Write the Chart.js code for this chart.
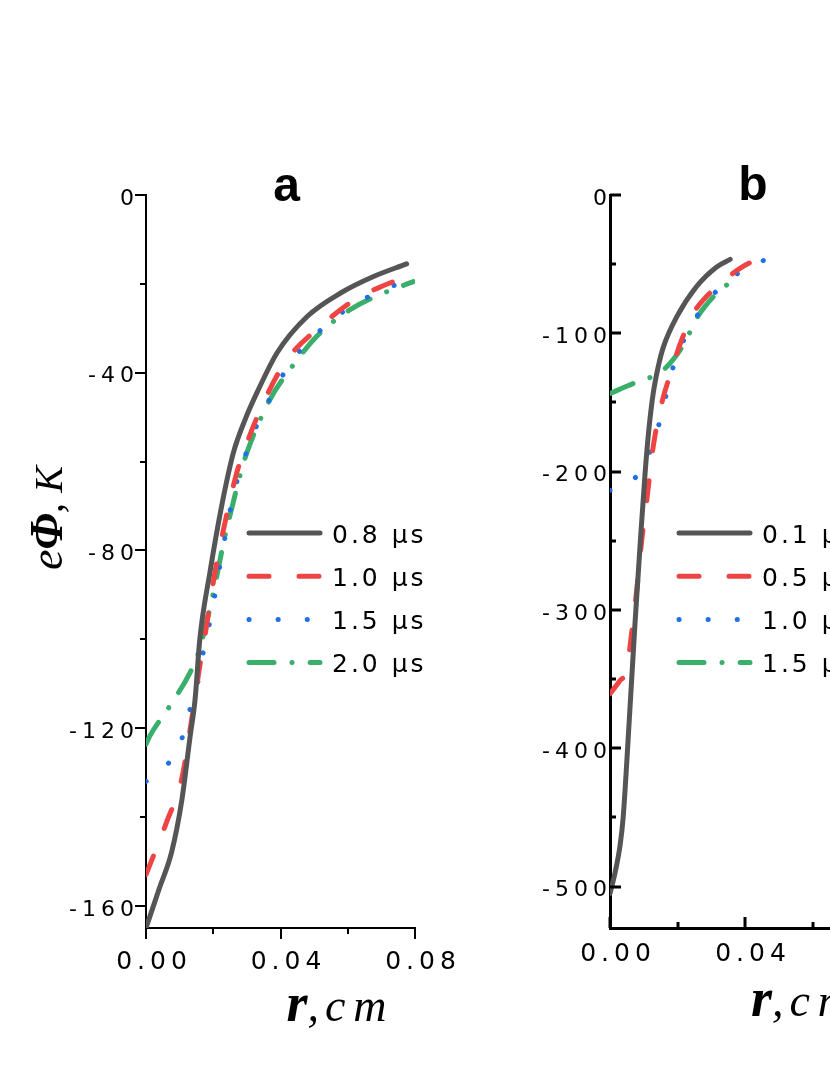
<!DOCTYPE html>
<html>
<head>
<meta charset="utf-8">
<script src="https://cdn.jsdelivr.net/npm/chart.js@4.4.1/dist/chart.umd.min.js"></script>
<style>
  html, body { margin: 0; padding: 0; background: #fff; }
  body { width: 830px; height: 1075px; overflow: hidden; position: relative; }
  .panel { position: absolute; top: 0; width: 460px; height: 1075px; }
  #panelA { left: 0; }
  #panelB { left: 460px; }
</style>
</head>
<body>
<div class="panel" id="panelA"><canvas id="chartA" width="460" height="1075"></canvas></div>
<div class="panel" id="panelB"><canvas id="chartB" width="460" height="1075"></canvas></div>
<script>
// ---- panel a : r (cm) vs e*Phi (K) ----
const labelsA = ['0.8 μs', '1.0 μs', '1.5 μs', '2.0 μs'];
const rA08 = [0, 0.004, 0.0076, 0.0106, 0.0131, 0.0146, 0.016, 0.019, 0.0225, 0.026, 0.0295, 0.033, 0.039, 0.048, 0.058, 0.0675, 0.0775];
const phiA08 = [-165, -156, -148, -136.5, -122, -113.5, -100, -85, -70, -58, -50.5, -44.5, -35.5, -27.3, -22, -18.4, -15.5];
const rA10 = [0, 0.0062, 0.0106, 0.0136, 0.016, 0.018, 0.0205, 0.0235, 0.027, 0.030, 0.036, 0.042, 0.052, 0.062, 0.070, 0.0795];
const phiA10 = [-153, -141, -131.5, -118, -106, -97, -85, -73.7, -62.5, -55.8, -45, -37, -29.5, -23.6, -20.6, -17.8];
const rA15 = [0, 0.0066, 0.0106, 0.0131, 0.0156, 0.017, 0.019, 0.0205, 0.023, 0.0265, 0.0294, 0.0319, 0.0396, 0.0438, 0.0495, 0.0557, 0.0627, 0.0711, 0.0795];
const phiA15 = [-132, -128, -122.5, -115.7, -109, -103, -96, -90, -79, -66, -59, -53.7, -42, -36.9, -32.2, -27.9, -24.3, -21.2, -18.7];
const rA20 = [0, 0.0012, 0.0071, 0.0131, 0.0156, 0.019, 0.021, 0.023, 0.026, 0.028, 0.030, 0.0369, 0.0428, 0.0508, 0.0607, 0.0706, 0.0795];
const phiA20 = [-123.6, -121.7, -115, -107.5, -103, -93, -86, -78.5, -69, -63, -58, -46, -39.3, -31.8, -25.8, -22.1, -19.5];

// ---- panel b ----
const labelsB = ['0.1 μs', '0.5 μs', '1.0 μs', '1.5 μs'];
const rB01 = [0, 0.0015, 0.003, 0.0039, 0.0057, 0.0074, 0.009, 0.0104, 0.0115, 0.0128, 0.0143, 0.0158, 0.0198, 0.0257, 0.0316, 0.0356];
const phiB01 = [-505, -490, -470, -450, -380, -310, -250, -201, -170, -143.5, -124, -110, -88, -66, -52, -46.5];
const rB05 = [0, 0.003, 0.0049, 0.0064, 0.0079, 0.0094, 0.0109, 0.0128, 0.0153, 0.0178, 0.0212, 0.0247, 0.0276, 0.0346, 0.0385, 0.0474];
const phiB05 = [-360.6, -351, -343.7, -317, -286, -249.6, -220.7, -182, -150.7, -130, -105, -85.6, -76, -60.3, -53, -42.2];
const rB10 = [0, 0.0069, 0.0114, 0.0143, 0.0163, 0.0183, 0.0212, 0.0247, 0.0296, 0.0356, 0.0435, 0.0468];
const phiB10 = [-213.5, -206, -188, -167.6, -148, -127.8, -108.5, -91.7, -74.8, -60.3, -50, -45.5];
const rB15 = [0, 0.0069, 0.0123, 0.0163, 0.0217, 0.0237, 0.0257, 0.0285, 0.0311, 0.0346, 0.0356];
const phiB15 = [-143.5, -136.3, -131.5, -125.4, -108.5, -99, -89, -79.5, -72.4, -65, -62.7];

// labelled ticks
const xMajor = [0, 0.04, 0.08];
const yMajorA = [0, -40, -80, -120, -160];
const yMajorB = [0, -100, -200, -300, -400, -500];

const SANS = 'DejaVu Sans';
const SERIF = 'Liberation Serif';
const seriesColors = ['#555555', '#ef4444', '#1f6fe5', '#3aae6b'];
const seriesDash = [[], [20, 30], [0.1, 29], [25, 18, 0.1, 18]];

function isMajor(v, list) {
  return list.some(m => Math.abs(m - v) < 1e-9);
}

function series(r, phi, i, label) {
  return {
    label: label,
    data: r.map((x, k) => ({ x: x, y: phi[k] })),
    borderColor: seriesColors[i],
    borderDash: seriesDash[i],
    borderWidth: 5,
    borderCapStyle: 'round',
    pointRadius: 0,
    cubicInterpolationMode: 'monotone',
    fill: false
  };
}

// tick marks, inset legend, panel letter and axis titles
const panelDecor = {
  id: 'panelDecor',
  beforeUpdate(chart, args, opts) { chart.ctx.letterSpacing = opts.tickSpacing + 'px'; },
  beforeDraw(chart, args, opts) { chart.ctx.letterSpacing = opts.tickSpacing + 'px'; },
  afterDraw(chart, args, opts) {
    const ctx = chart.ctx;
    const area = chart.chartArea;
    const xs = chart.scales.x;
    const ys = chart.scales.y;
    const dir = opts.inward ? -1 : 1;
    ctx.save();
    ctx.strokeStyle = '#000';
    ctx.lineWidth = opts.tickWidth;
    ctx.lineCap = 'butt';
    xs.ticks.forEach(t => {
      const len = t.label ? opts.majorLen : opts.minorLen;
      const px = Math.round(xs.getPixelForValue(t.value));
      ctx.beginPath();
      ctx.moveTo(px, area.bottom);
      ctx.lineTo(px, area.bottom + dir * len);
      ctx.stroke();
    });
    ys.ticks.forEach(t => {
      const len = t.label ? opts.majorLen : opts.minorLen;
      const py = Math.round(ys.getPixelForValue(t.value));
      ctx.beginPath();
      ctx.moveTo(area.left, py);
      ctx.lineTo(area.left - dir * len, py);
      ctx.stroke();
    });

    // legend
    const lg = opts.legend;
    chart.data.datasets.forEach((ds, i) => {
      const y = lg.y + i * lg.dy;
      ctx.beginPath();
      ctx.setLineDash(ds.borderDash);
      ctx.lineCap = 'round';
      ctx.lineWidth = ds.borderWidth;
      ctx.strokeStyle = ds.borderColor;
      ctx.moveTo(lg.x, y);
      ctx.lineTo(lg.x + lg.len, y);
      ctx.stroke();
      ctx.setLineDash([]);
      ctx.fillStyle = '#000';
      ctx.font = lg.size + 'px "' + SANS + '"';
      ctx.letterSpacing = lg.spacing + 'px';
      ctx.textAlign = 'left';
      ctx.textBaseline = 'middle';
      ctx.fillText(ds.label, lg.x + lg.len + lg.gap, y + lg.textDy);
    });

    // panel letter
    const cx = (area.left + area.right) / 2;
    ctx.letterSpacing = '0px';
    ctx.fillStyle = '#000';
    ctx.font = 'bold 48px "Liberation Sans"';
    ctx.textAlign = 'center';
    ctx.textBaseline = 'alphabetic';
    ctx.fillText(opts.letter, cx + opts.letterDx, opts.letterY);

    // x title:  r, cm
    const xParts = [
      ['r', 'italic bold 54px "' + SERIF + '"', 0],
      [',', 'italic 46px "' + SERIF + '"', 6],
      ['cm', 'italic 46px "' + SERIF + '"', 8]
    ];
    drawParts(ctx, xParts, cx + opts.xTitleDx, opts.xTitleY, 0);

    // y title: e Phi, K
    if (opts.yTitle) {
      const yParts = [
        ['e', 'italic 46px "' + SERIF + '"', 0],
        ['Φ', 'italic bold 46px "' + SERIF + '"', 0],
        [',', 'italic 42px "' + SERIF + '"', 0],
        [' K', 'italic 40px "' + SERIF + '"', 0]
      ];
      drawParts(ctx, yParts, opts.yTitle.x, opts.yTitle.y, -Math.PI / 2);
    }
    ctx.restore();
  }
};

function drawParts(ctx, parts, x, y, rot) {
  ctx.save();
  ctx.translate(x, y);
  ctx.rotate(rot);
  ctx.textAlign = 'left';
  ctx.textBaseline = 'alphabetic';
  let total = 0;
  const widths = parts.map(p => {
    ctx.font = p[1];
    ctx.letterSpacing = p[2] + 'px';
    const w = ctx.measureText(p[0]).width;
    total += w;
    return w;
  });
  let pos = -total / 2;
  parts.forEach((p, i) => {
    ctx.font = p[1];
    ctx.letterSpacing = p[2] + 'px';
    ctx.fillText(p[0], pos, 0);
    pos += widths[i];
  });
  ctx.restore();
}

function makeChart(id, datasets, cfg) {
  return new Chart(document.getElementById(id), {
    type: 'line',
    data: { datasets: datasets },
    plugins: [panelDecor],
    options: {
      responsive: false,
      animation: false,
      events: [],
      layout: { padding: { left: 0, right: cfg.padRight, top: 195, bottom: 0 } },
      plugins: {
        legend: { display: false },
        title: { display: false },
        tooltip: { enabled: false },
        panelDecor: cfg.decor
      },
      scales: {
        x: {
          type: 'linear',
          min: 0,
          max: 0.08,
          grid: { display: false, drawTicks: false },
          border: { display: true, color: '#000', width: cfg.axisWidth },
          ticks: {
            stepSize: 0.02,
            includeBounds: false,
            autoSkip: false,
            maxRotation: 0,
            labelOffset: 8,
            padding: cfg.xPad,
            color: '#000',
            font: { family: SANS, size: 25 },
            callback: v => isMajor(v, xMajor) ? v.toFixed(2) : ''
          },
          afterFit: s => {
            s.height = 1075 - 928;
            s.paddingLeft = 0;
            s.paddingRight = 0;
          }
        },
        y: {
          type: 'linear',
          min: cfg.yMin,
          max: 0,
          grid: { display: false, drawTicks: false },
          border: { display: true, color: '#000', width: cfg.axisWidth },
          ticks: {
            stepSize: cfg.yStep,
            includeBounds: false,
            autoSkip: false,
            labelOffset: 4,
            padding: cfg.yPad,
            color: '#000',
            font: { family: SANS, size: 22 },
            callback: v => isMajor(v, cfg.yMajor) ? String(v) : ''
          },
          afterFit: s => {
            s.width = cfg.yWidth;
            s.paddingTop = 0;
            s.paddingBottom = 0;
          }
        }
      }
    }
  });
}

makeChart('chartA', [
  series(rA08, phiA08, 0, labelsA[0]),
  series(rA10, phiA10, 1, labelsA[1]),
  series(rA15, phiA15, 2, labelsA[2]),
  series(rA20, phiA20, 3, labelsA[3])
], {
  padRight: 45, yWidth: 146, yMin: -165, yStep: 20, yMajor: yMajorA,
  axisWidth: 2, xPad: 19, yPad: 7,
  decor: {
    tickSpacing: 5, inward: false, majorLen: 11, minorLen: 6, tickWidth: 2,
    legend: { x: 249, y: 533, dy: 43.2, len: 71, gap: 12, size: 25, spacing: 3, textDy: 3 },
    letter: 'a', letterDx: 6, letterY: 201,
    xTitleDx: 60, xTitleY: 1021,
    yTitle: { x: 62, y: 518 }
  }
});

makeChart('chartB', [
  series(rB01, phiB01, 0, labelsB[0]),
  series(rB05, phiB05, 1, labelsB[1]),
  series(rB10, phiB10, 2, labelsB[2]),
  series(rB15, phiB15, 3, labelsB[3])
], {
  padRight: 40, yWidth: 150, yMin: -530, yStep: 50, yMajor: yMajorB,
  axisWidth: 3, xPad: 11, yPad: -2,
  decor: {
    tickSpacing: 5, inward: true, majorLen: 11, minorLen: 6, tickWidth: 3,
    legend: { x: 219, y: 533, dy: 43.2, len: 71, gap: 12, size: 25, spacing: 3, textDy: 3 },
    letter: 'b', letterDx: 8, letterY: 200,
    xTitleDx: 60, xTitleY: 1016,
    yTitle: null
  }
});
</script>
</body>
</html>
